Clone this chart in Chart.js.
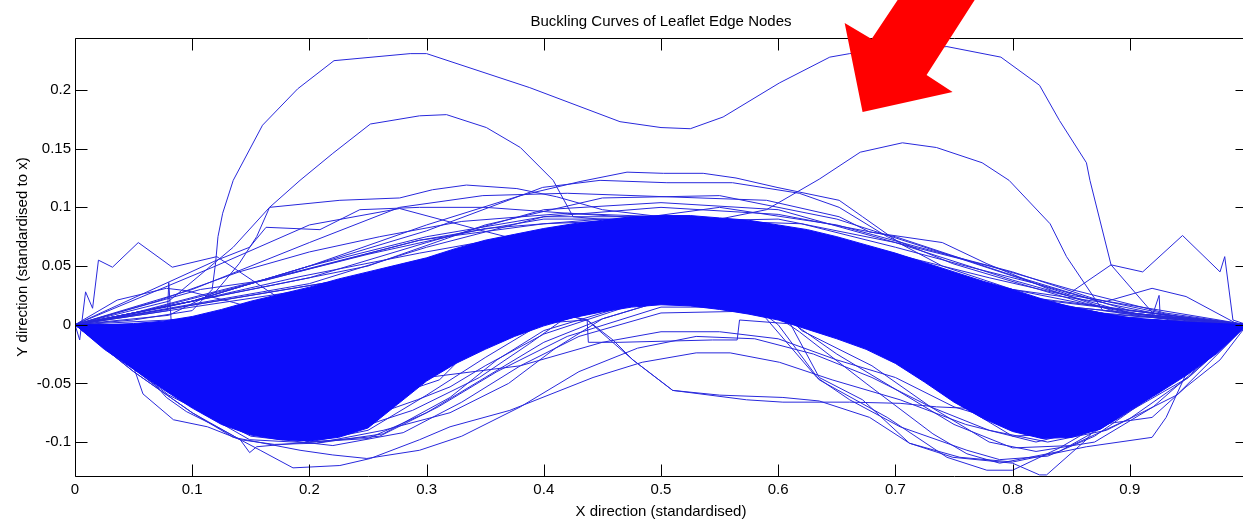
<!DOCTYPE html>
<html><head><meta charset="utf-8">
<style>html,body{margin:0;padding:0;background:#fff;overflow:hidden;width:1243px;height:520px}canvas{display:block}</style>
<script src="https://cdn.jsdelivr.net/npm/chart.js@4.4.1/dist/chart.umd.min.js"></script>
</head><body>
<canvas id="c" width="1260" height="520"></canvas>
<script>
// ---------- data ----------
const chartTitle = 'Buckling Curves of Leaflet Edge Nodes';
const xTitle = 'X direction (standardised)';
const yTitle = 'Y direction (standardised to x)';
const xTickValues = [0, 0.1, 0.2, 0.3, 0.4, 0.5, 0.6, 0.7, 0.8, 0.9];
const yTickValues = [-0.1, -0.05, 0, 0.05, 0.1, 0.15, 0.2];

// dense core of the bundle of curves (upper / lower envelope)
const xGrid = [0,0.025,0.05,0.075,0.1,0.125,0.15,0.175,0.2,0.225,0.25,0.275,0.3,0.325,0.35,0.375,0.4,0.425,0.45,0.475,0.5,0.525,0.55,0.575,0.6,0.625,0.65,0.675,0.7,0.725,0.75,0.775,0.8,0.825,0.85,0.875,0.9,0.925,0.95,0.975,1];
const bandUpper = [0,0,0.001,0.003,0.007,0.013,0.02,0.026,0.032,0.039,0.045,0.051,0.057,0.065,0.072,0.077,0.082,0.086,0.089,0.092,0.093,0.093,0.091,0.089,0.085,0.081,0.075,0.068,0.061,0.053,0.045,0.037,0.03,0.022,0.015,0.01,0.006,0.004,0.002,0.001,0];
const bandLower = [0,-0.021,-0.038,-0.055,-0.071,-0.085,-0.094,-0.098,-0.099,-0.096,-0.088,-0.068,-0.048,-0.033,-0.021,-0.01,-0.001,0.006,0.011,0.015,0.017,0.016,0.013,0.009,0.004,-0.004,-0.012,-0.021,-0.033,-0.049,-0.066,-0.08,-0.091,-0.097,-0.096,-0.089,-0.073,-0.058,-0.042,-0.024,0];

// individual curves visible outside the dense core: [x, y]
const curveA = [[0,0],[0.05,0.004],[0.1,0.012],[0.117,0.03],[0.12,0.053],[0.122,0.075],[0.126,0.095],[0.135,0.123],[0.16,0.17],[0.19,0.201],[0.221,0.225],[0.286,0.231],[0.3,0.231],[0.388,0.202],[0.465,0.173],[0.5,0.168],[0.525,0.167],[0.553,0.177],[0.601,0.206],[0.644,0.228],[0.661,0.231],[0.744,0.237],[0.79,0.228],[0.823,0.204],[0.84,0.174],[0.863,0.138],[0.866,0.123],[0.884,0.051],[0.923,0.006],[1,0]];
const curveB = [[0,0],[0.08,0.008],[0.12,0.028],[0.14,0.052],[0.155,0.075],[0.166,0.1],[0.192,0.123],[0.22,0.146],[0.252,0.171],[0.294,0.178],[0.317,0.179],[0.351,0.168],[0.38,0.151],[0.408,0.123],[0.425,0.092],[0.47,0.088],[0.55,0.09],[0.59,0.098],[0.635,0.124],[0.67,0.147],[0.706,0.155],[0.735,0.151],[0.774,0.138],[0.797,0.123],[0.832,0.086],[0.846,0.058],[0.877,0.012],[0.95,0.002],[1,0]];
const zigLeft = [[0,0],[0.004,-0.013],[0.009,0.028],[0.015,0.014],[0.02,0.055],[0.032,0.049],[0.054,0.07],[0.083,0.049],[0.121,0.058],[0.172,0.024],[0.22,0.032],[0.3,0.05],[0.4,0.07],[0.5,0.08],[0.6,0.075],[0.7,0.05],[0.8,0.02],[0.9,0.004],[1,0]];
const spikeLeft = [[0,0],[0.04,0.006],[0.079,0.012],[0.08,0.036],[0.082,0.004],[0.12,0.006],[0.2,0.02],[0.3,0.04],[0.4,0.06],[0.5,0.07],[0.6,0.06],[0.7,0.04],[0.8,0.01],[1,0]];
const arcLeft = [[0,0],[0.036,0.021],[0.078,0.031],[0.095,0.029],[0.135,0.019],[0.149,0.015],[0.2,0.02],[0.3,0.045],[0.4,0.065],[0.5,0.075],[0.6,0.065],[0.7,0.04],[0.8,0.015],[1,0]];
const arcRight = [[0,0],[0.2,0.0],[0.3,0.03],[0.4,0.06],[0.5,0.075],[0.6,0.07],[0.7,0.05],[0.8,0.03],[0.877,0.019],[0.919,0.031],[0.948,0.024],[0.991,0.001],[1,0]];
const spikeRight = [[0,0],[0.2,0.0],[0.3,0.02],[0.4,0.05],[0.5,0.06],[0.6,0.06],[0.7,0.04],[0.8,0.02],[0.9,0.006],[0.919,0.007],[0.925,0.025],[0.926,0.006],[0.96,0.002],[1,0]];
const zigRight = [[0,0],[0.2,0.01],[0.3,0.04],[0.4,0.07],[0.5,0.08],[0.6,0.075],[0.7,0.06],[0.78,0.04],[0.846,0.025],[0.884,0.051],[0.911,0.045],[0.945,0.076],[0.977,0.045],[0.981,0.058],[0.988,0.004],[1,0]];
const fan1 = [[0,0],[0.08,0.02],[0.135,0.066],[0.166,0.1],[0.226,0.106],[0.277,0.108],[0.305,0.115],[0.334,0.119],[0.377,0.116],[0.411,0.109],[0.45,0.098],[0.5,0.092],[0.6,0.08],[0.7,0.055],[0.8,0.025],[0.9,0.005],[1,0]];
const fan2 = [[0,0],[0.121,0.055],[0.149,0.066],[0.163,0.083],[0.209,0.081],[0.243,0.098],[0.294,0.1],[0.35,0.1],[0.42,0.095],[0.5,0.09],[0.6,0.08],[0.7,0.056],[0.8,0.026],[0.9,0.005],[1,0]];
const fan3 = [[0,0],[0.107,0.03],[0.163,0.038],[0.294,0.072],[0.4,0.09],[0.5,0.09],[0.6,0.078],[0.7,0.055],[0.8,0.025],[0.9,0.005],[1,0]];
const fan4 = [[0,0],[0.078,0.015],[0.192,0.041],[0.294,0.061],[0.4,0.08],[0.5,0.088],[0.6,0.078],[0.7,0.054],[0.8,0.024],[1,0]];
const fan5 = [[0,0],[0.05,0.01],[0.107,0.025],[0.135,0.032],[0.192,0.046],[0.294,0.072],[0.4,0.086],[0.5,0.09],[0.6,0.078],[0.7,0.05],[0.8,0.02],[1,0]];
const fan6 = [[0,0],[0.12,0.05],[0.2,0.085],[0.277,0.099],[0.348,0.08],[0.411,0.064],[0.5,0.06],[0.6,0.05],[0.7,0.03],[0.8,0.01],[1,0]];
const fan7 = [[0,0],[0.1,0.02],[0.2,0.05],[0.3,0.075],[0.4,0.092],[0.5,0.092],[0.6,0.08],[0.7,0.05],[0.8,0.02],[1,0]];
const fan8 = [[0,0],[0.06,0.012],[0.15,0.035],[0.25,0.06],[0.35,0.082],[0.45,0.09],[0.55,0.088],[0.65,0.07],[0.75,0.04],[0.85,0.012],[1,0]];
const fan9 = [[0,0],[0.07,0.02],[0.14,0.045],[0.2,0.062],[0.26,0.075],[0.33,0.088],[0.42,0.095],[0.5,0.092],[0.6,0.082],[0.7,0.055],[0.8,0.025],[1,0]];
const top1 = [[0,0],[0.1,0.02],[0.2,0.05],[0.3,0.085],[0.38,0.11],[0.431,0.122],[0.471,0.13],[0.502,0.129],[0.536,0.129],[0.564,0.125],[0.599,0.117],[0.652,0.106],[0.672,0.092],[0.706,0.068],[0.74,0.05],[0.8,0.03],[0.9,0.01],[1,0]];
const top2 = [[0,0],[0.1,0.02],[0.2,0.05],[0.3,0.08],[0.399,0.117],[0.448,0.123],[0.505,0.121],[0.561,0.121],[0.618,0.112],[0.652,0.1],[0.693,0.075],[0.749,0.052],[0.806,0.035],[0.863,0.018],[0.919,0.007],[1,0]];
const top3 = [[0,0],[0.1,0.03],[0.2,0.07],[0.277,0.1],[0.348,0.11],[0.42,0.112],[0.505,0.109],[0.59,0.106],[0.652,0.092],[0.678,0.079],[0.74,0.07],[0.778,0.052],[0.834,0.029],[0.891,0.01],[1,0]];
const top4 = [[0,0],[0.2,0.04],[0.3,0.07],[0.4,0.098],[0.5,0.104],[0.6,0.098],[0.7,0.07],[0.8,0.038],[0.9,0.01],[1,0]];
const top5 = [[0,0],[0.2,0.035],[0.3,0.066],[0.4,0.092],[0.5,0.1],[0.6,0.094],[0.7,0.075],[0.8,0.042],[0.9,0.012],[1,0]];
const top6 = [[0,0],[0.25,0.05],[0.35,0.085],[0.45,0.108],[0.55,0.11],[0.65,0.09],[0.75,0.058],[0.85,0.025],[1,0]];
const upRight1 = [[0,0],[0.2,0.03],[0.4,0.08],[0.55,0.1],[0.65,0.085],[0.72,0.066],[0.8,0.045],[0.87,0.022],[0.95,0.005],[1,0]];
const upRight2 = [[0,0],[0.3,0.05],[0.5,0.088],[0.6,0.09],[0.7,0.07],[0.78,0.05],[0.85,0.03],[0.93,0.01],[1,0]];
const upRight3 = [[0,0],[0.3,0.05],[0.5,0.09],[0.62,0.086],[0.7,0.066],[0.76,0.05],[0.82,0.035],[0.88,0.018],[0.94,0.006],[1,0]];
const low1 = [[0,0],[0.025,-0.02],[0.05,-0.036],[0.058,-0.059],[0.084,-0.081],[0.113,-0.087],[0.141,-0.098],[0.149,-0.109],[0.155,-0.104],[0.2,-0.1],[0.25,-0.09],[0.3,-0.06],[0.35,-0.028],[0.4,0.002],[0.5,0.03],[0.6,0.02],[0.7,-0.02],[0.8,-0.06],[0.9,-0.05],[1,0]];
const low2 = [[0,0],[0.04,-0.03],[0.07,-0.053],[0.078,-0.062],[0.095,-0.074],[0.121,-0.087],[0.141,-0.098],[0.17,-0.102],[0.206,-0.101],[0.263,-0.093],[0.32,-0.062],[0.36,-0.03],[0.4,-0.005],[0.5,0.025],[0.6,0.02],[0.7,-0.02],[0.8,-0.06],[0.9,-0.05],[1,0]];
const lowest = [[0,0],[0.05,-0.04],[0.1,-0.075],[0.141,-0.098],[0.158,-0.107],[0.186,-0.122],[0.226,-0.12],[0.252,-0.114],[0.294,-0.098],[0.32,-0.087],[0.371,-0.073],[0.442,-0.045],[0.484,-0.032],[0.53,-0.024],[0.559,-0.024],[0.601,-0.032],[0.646,-0.047],[0.704,-0.064],[0.76,-0.085],[0.82,-0.1],[0.88,-0.085],[0.95,-0.045],[1,0]];
const low4 = [[0,0],[0.05,-0.04],[0.1,-0.075],[0.135,-0.096],[0.192,-0.107],[0.22,-0.111],[0.249,-0.114],[0.294,-0.107],[0.33,-0.095],[0.38,-0.07],[0.43,-0.04],[0.48,-0.02],[0.53,-0.01],[0.58,-0.012],[0.63,-0.025],[0.68,-0.045],[0.73,-0.07],[0.78,-0.09],[0.83,-0.1],[0.88,-0.09],[0.94,-0.06],[1,0]];
const low5 = [[0,0],[0.1,-0.07],[0.149,-0.098],[0.206,-0.101],[0.263,-0.09],[0.32,-0.075],[0.37,-0.05],[0.41,-0.02],[0.45,0.005],[0.5,0.02],[0.6,0.02],[0.7,0.0],[0.8,-0.04],[0.9,-0.04],[1,0]];
const low6 = [[0,0],[0.1,-0.07],[0.177,-0.098],[0.235,-0.084],[0.292,-0.064],[0.32,-0.053],[0.35,-0.035],[0.4,-0.008],[0.5,0.025],[0.6,0.025],[0.7,-0.01],[0.8,-0.05],[0.9,-0.045],[1,0]];
const low7 = [[0,0],[0.1,-0.065],[0.2,-0.09],[0.26,-0.064],[0.311,-0.047],[0.345,-0.013],[0.4,0.005],[0.5,0.03],[0.6,0.03],[0.7,0.0],[0.8,-0.04],[0.9,-0.04],[1,0]];
const low8 = [[0,0],[0.1,-0.068],[0.22,-0.095],[0.288,-0.073],[0.345,-0.045],[0.388,-0.016],[0.416,0.004],[0.45,0.012],[0.5,0.03],[0.6,0.03],[0.7,0.0],[0.8,-0.045],[0.9,-0.045],[1,0]];
const low9 = [[0,0],[0.1,-0.07],[0.2,-0.1],[0.25,-0.097],[0.3,-0.075],[0.35,-0.045],[0.4,-0.015],[0.45,0.005],[0.5,0.02],[0.6,0.02],[0.7,-0.02],[0.8,-0.06],[0.9,-0.05],[1,0]];
const low10 = [[0,0],[0.1,-0.07],[0.2,-0.1],[0.26,-0.095],[0.31,-0.07],[0.36,-0.04],[0.42,-0.01],[0.5,0.015],[0.6,0.015],[0.7,-0.02],[0.8,-0.065],[0.9,-0.055],[1,0]];
const low11 = [[0,0],[0.08,-0.06],[0.15,-0.095],[0.22,-0.103],[0.28,-0.092],[0.33,-0.066],[0.38,-0.035],[0.43,-0.01],[0.5,0.01],[0.6,0.012],[0.7,-0.02],[0.8,-0.065],[0.9,-0.055],[1,0]];
const dropLine = [[0,0],[0.1,-0.04],[0.2,-0.05],[0.3,-0.02],[0.4,0.012],[0.437,0.004],[0.459,-0.013],[0.476,-0.03],[0.51,-0.056],[0.573,-0.064],[0.604,-0.066],[0.661,-0.066],[0.704,-0.067],[0.735,-0.07],[0.8,-0.073],[0.863,-0.071],[0.9,-0.06],[0.95,-0.035],[1,0]];
const midLow = [[0,0],[0.1,-0.06],[0.2,-0.08],[0.3,-0.045],[0.38,-0.035],[0.45,-0.015],[0.5,-0.006],[0.55,-0.006],[0.6,-0.012],[0.65,-0.03],[0.7,-0.045],[0.75,-0.07],[0.8,-0.085],[0.85,-0.085],[0.9,-0.065],[1,0]];
const stepLine = [[0,0],[0.1,-0.04],[0.2,-0.05],[0.3,-0.02],[0.38,0],[0.437,0.004],[0.438,-0.015],[0.465,-0.015],[0.544,-0.013],[0.565,-0.013],[0.567,0.004],[0.62,0],[0.7,-0.02],[0.8,-0.05],[0.9,-0.04],[1,0]];
const right1 = [[0,0],[0.2,-0.06],[0.3,-0.02],[0.4,0.02],[0.5,0.04],[0.6,0.02],[0.635,-0.045],[0.672,-0.064],[0.712,-0.101],[0.749,-0.113],[0.8,-0.118],[0.823,-0.128],[0.829,-0.128],[0.863,-0.098],[0.883,-0.073],[0.93,-0.04],[1,0]];
const right2 = [[0,0],[0.1,-0.04],[0.2,-0.05],[0.3,-0.02],[0.4,0.012],[0.437,0.004],[0.476,-0.03],[0.51,-0.056],[0.55,-0.06],[0.604,-0.062],[0.635,-0.065],[0.678,-0.079],[0.712,-0.101],[0.755,-0.113],[0.8,-0.117],[0.863,-0.104],[0.919,-0.096],[0.931,-0.079],[0.948,-0.042],[0.98,-0.015],[1,0]];
const right3 = [[0,0],[0.2,-0.06],[0.3,-0.02],[0.4,0.02],[0.5,0.035],[0.57,0.025],[0.59,0.005],[0.633,-0.045],[0.661,-0.064],[0.704,-0.087],[0.761,-0.107],[0.789,-0.115],[0.83,-0.112],[0.87,-0.095],[0.92,-0.06],[1,0]];
const right4 = [[0,0],[0.2,-0.06],[0.3,-0.02],[0.4,0.02],[0.5,0.035],[0.58,0.02],[0.618,-0.006],[0.675,-0.05],[0.732,-0.093],[0.761,-0.11],[0.789,-0.118],[0.84,-0.108],[0.89,-0.08],[0.95,-0.04],[1,0]];
const right5 = [[0,0],[0.2,-0.06],[0.3,-0.02],[0.4,0.02],[0.5,0.035],[0.58,0.015],[0.6,0.0],[0.635,-0.047],[0.693,-0.079],[0.744,-0.113],[0.778,-0.124],[0.8,-0.124],[0.84,-0.105],[0.9,-0.07],[1,0]];
const right6 = [[0,0],[0.2,-0.06],[0.3,-0.02],[0.4,0.02],[0.5,0.035],[0.6,0.02],[0.7,-0.03],[0.75,-0.065],[0.8,-0.095],[0.863,-0.092],[0.883,-0.084],[0.919,-0.079],[0.948,-0.053],[0.977,-0.03],[1,0]];
const right7 = [[0,0],[0.2,-0.06],[0.3,-0.02],[0.4,0.02],[0.5,0.035],[0.6,0.015],[0.62,-0.005],[0.68,-0.035],[0.73,-0.07],[0.78,-0.1],[0.82,-0.108],[0.87,-0.1],[0.92,-0.07],[1,0]];
const right8 = [[0,0],[0.2,-0.06],[0.3,-0.02],[0.4,0.02],[0.5,0.035],[0.6,0.01],[0.65,-0.025],[0.7,-0.055],[0.75,-0.085],[0.8,-0.105],[0.85,-0.103],[0.9,-0.08],[0.95,-0.045],[1,0]];

const curves = [curveA, curveB, zigLeft, spikeLeft, arcLeft, arcRight, spikeRight, zigRight,
  fan1, fan2, fan3, fan4, fan5, fan6, fan7, fan8, fan9, top1, top2, top3, top4, top5, top6,
  upRight1, upRight2, upRight3,
  low1, low2, lowest, low4, low5, low6, low7, low8, low9, low10, low11, dropLine, midLow, stepLine,
  right1, right2, right3, right4, right5, right6, right7, right8];

// red annotation arrow, in data units
const arrowShape = [[0.672,0.1813],[0.6567,0.2571],[0.6797,0.2435],[0.7076,0.2852],[0.7731,0.2852],[0.7266,0.2128],[0.7488,0.1983]];

// ---------- chart ----------
const FONT = '"Liberation Sans", Arial, Helvetica, sans-serif';
const bandColor = 'rgb(12,12,250)';
const lineColor = 'rgb(40,40,220)';

const datasets = [];
datasets.push({ data: xGrid.map((x, i) => ({ x, y: bandUpper[i] })), borderColor: bandColor, backgroundColor: bandColor, borderWidth: 1, fill: '+1', order: 0 });
datasets.push({ data: xGrid.map((x, i) => ({ x, y: bandLower[i] })), borderColor: bandColor, borderWidth: 1, fill: false, order: 0 });
curves.forEach(c => datasets.push({ data: c.map(p => ({ x: p[0], y: p[1] })), borderColor: lineColor, borderWidth: 1, fill: false, order: 1 }));

const matlabAxes = {
  id: 'matlabAxes',
  afterDatasetsDraw(chart) {
    const { ctx, chartArea: a, scales } = chart;
    const L = Math.round(a.left) + 0.5, R = Math.round(a.right) + 0.5;
    const T = Math.round(a.top) + 0.5, B = Math.round(a.bottom) + 0.5;
    ctx.save();
    ctx.strokeStyle = '#000';
    ctx.lineWidth = 1;
    ctx.beginPath();
    ctx.rect(L, T, R - L, B - T);
    const tl = 12;
    xTickValues.forEach(v => {
      const px = Math.round(scales.x.getPixelForValue(v)) + 0.5;
      ctx.moveTo(px, B); ctx.lineTo(px, B - tl);
      ctx.moveTo(px, T); ctx.lineTo(px, T + tl);
    });
    yTickValues.forEach(v => {
      const py = Math.round(scales.y.getPixelForValue(v)) + 0.5;
      ctx.moveTo(L, py); ctx.lineTo(L + tl, py);
      ctx.moveTo(R, py); ctx.lineTo(R - tl, py);
    });
    ctx.stroke();
    ctx.restore();
  },
  afterDraw(chart) {
    const { ctx, chartArea: a, scales } = chart;
    ctx.save();
    ctx.fillStyle = '#ff0000';
    ctx.beginPath();
    arrowShape.forEach((p, i) => {
      const px = scales.x.getPixelForValue(p[0]), py = scales.y.getPixelForValue(p[1]);
      if (i === 0) ctx.moveTo(px, py); else ctx.lineTo(px, py);
    });
    ctx.closePath();
    ctx.fill();
    ctx.fillStyle = '#000';
    ctx.font = '15px ' + FONT;
    ctx.textAlign = 'center';
    ctx.textBaseline = 'alphabetic';
    const cx = (a.left + a.right) / 2;
    ctx.fillText(chartTitle, cx, 26);
    ctx.fillText(xTitle, cx, 516);
    ctx.translate(27, (a.top + a.bottom) / 2);
    ctx.rotate(-Math.PI / 2);
    ctx.fillText(yTitle, 0, 0);
    ctx.restore();
  }
};

new Chart(document.getElementById('c'), {
  type: 'line',
  data: { datasets },
  options: {
    responsive: false,
    animation: false,
    devicePixelRatio: 1,
    layout: { padding: { top: 38, right: 13, left: 0, bottom: 0 } },
    elements: { point: { radius: 0 }, line: { tension: 0, borderJoinStyle: 'miter' } },
    plugins: { legend: { display: false }, tooltip: { enabled: false }, title: { display: false } },
    scales: {
      x: {
        type: 'linear', min: 0, max: 1,
        afterFit: s => { s.height = 44; },
        afterBuildTicks: s => { s.ticks = xTickValues.map(v => ({ value: v })); },
        grid: { display: false, drawTicks: false },
        border: { display: false },
        ticks: { autoSkip: false, maxRotation: 0, padding: 5, color: '#000', font: { family: FONT, size: 15 }, callback: v => String(v) }
      },
      y: {
        type: 'linear', min: -0.12893, max: 0.24431,
        afterFit: s => { s.width = 75; },
        afterBuildTicks: s => { s.ticks = yTickValues.map(v => ({ value: v })); },
        grid: { display: false, drawTicks: false },
        border: { display: false },
        ticks: { autoSkip: false, padding: 4, color: '#000', font: { family: FONT, size: 15 }, callback: v => String(v) }
      }
    }
  },
  plugins: [matlabAxes]
});
</script>
</body></html>
